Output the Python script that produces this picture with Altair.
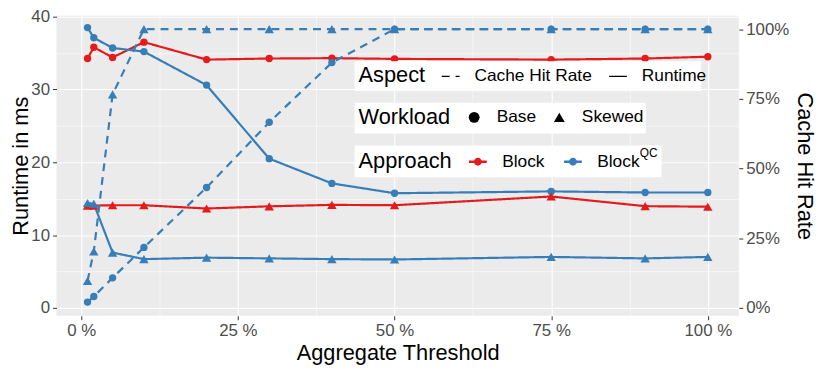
import altair as alt
import pandas as pd

# ---------------- data ----------------
thresholds = [1, 2, 5, 10, 20, 30, 40, 50, 75, 90, 100]

runtime_block_base = [34.25, 35.8, 34.4, 36.5, 34.1, 34.25, 34.3, 34.2, 34.1, 34.25, 34.5]
runtime_block_skewed = [14.05, 14.05, 14.1, 14.1, 13.65, 13.95, 14.15, 14.1, 15.3, 13.97, 13.9]
runtime_qc_base = [38.5, 37.1, 35.7, 35.2, 30.6, 20.5, 17.1, 15.75, 16.0, 15.85, 15.85]
runtime_qc_skewed = [14.4, 14.3, 7.6, 6.7, 6.9, 6.8, 6.7, 6.65, 7.0, 6.8, 7.0]

cache_qc_base = [0.021, 0.041, 0.108, 0.217, 0.432, 0.666, 0.88, 1.0, 1.0, 1.0, 1.0]
cache_qc_skewed = [0.097, 0.203, 0.766, 1.0, 1.0, 1.0, 1.0, 1.0, 1.0, 1.0, 1.0]

approaches = ["Block", "BlockQC"]
workloads = ["Base", "Skewed"]
aspects = ["Cache Hit Rate", "Runtime"]
approach_colors = ["#E41A1C", "#377EB8"]

x_ticks = [0, 12.5, 25, 37.5, 50, 62.5, 75, 87.5, 100]
y_ticks = [0, 5, 10, 15, 20, 25, 30, 35, 40]
y2_ticks = [0, 0.25, 0.5, 0.75, 1.0]

series = [
    ("Block", "Base", "Runtime", runtime_block_base),
    ("Block", "Skewed", "Runtime", runtime_block_skewed),
    ("BlockQC", "Base", "Runtime", runtime_qc_base),
    ("BlockQC", "Skewed", "Runtime", runtime_qc_skewed),
    ("BlockQC", "Base", "Cache Hit Rate", cache_qc_base),
    ("BlockQC", "Skewed", "Cache Hit Rate", cache_qc_skewed),
]
rows = []
for appr, wl, asp, vals in series:
    for t, v in zip(thresholds, vals):
        rows.append({"threshold": t, "value": v, "approach": appr,
                     "workload": wl, "aspect": asp,
                     "series": f"{appr}-{wl}-{asp}"})
df = pd.DataFrame(rows)

# legend background boxes (pixel positions inside the plot area)
legend_boxes = pd.DataFrame({
    "name": ["Aspect", "Workload", "Approach"],
    "x0": [301, 301, 301],
    "x1": [651, 595, 611],
    "y0": [46, 88, 131],
    "y1": [76, 119, 163],
})

# ---------------- styling ----------------
FONT = "Liberation Sans"
W, H = 689, 303
TITLE_SIZE = 22
LABEL_SIZE = 17

major_x = "datum.value % 25 === 0"
major_y = "datum.value % 10 === 0"

x_enc = alt.X(
    "threshold:Q",
    scale=alt.Scale(domain=[-3.95, 104.95], nice=False, zero=False),
    axis=alt.Axis(
        values=x_ticks, title="Aggregate Threshold",
        labelExpr=f"{major_x} ? datum.value + ' %' : ''",
        gridWidth={"condition": {"test": major_x, "value": 1.1}, "value": 0.55},
        tickOpacity={"condition": {"test": major_x, "value": 1}, "value": 0},
        titleY=37, titleBaseline="middle",
    ),
)

y_left = alt.Y(
    "value:Q",
    scale=alt.Scale(domain=[-1.08, 40.13], nice=False, zero=False),
    axis=alt.Axis(
        orient="left", values=y_ticks, title="Runtime in ms",
        labelExpr=f"{major_y} ? datum.label : ''",
        gridWidth={"condition": {"test": major_y, "value": 1.1}, "value": 0.55},
        tickOpacity={"condition": {"test": major_y, "value": 1}, "value": 0},
        titleX=-36, titleY=H / 2, titleAngle=270, titleBaseline="middle",
        titleAlign="center",
    ),
)

y_right = alt.Y(
    "value:Q",
    scale=alt.Scale(domain=[-0.0281, 1.0482], nice=False, zero=False),
    axis=alt.Axis(
        orient="right", values=y2_ticks, format=".0%", title="Cache Hit Rate",
        grid=False, titleX=66, titleY=H / 2, titleAngle=90,
        titleBaseline="middle", titleAlign="center",
    ),
)

legend_common = dict(
    orient="none", direction="horizontal", titleOrient="left",
    padding=4, titleFontSize=TITLE_SIZE,
    titleFont=FONT, titleFontWeight="normal", titleColor="black",
    labelFont=FONT, labelFontSize=17.5, labelColor="black",
    titlePadding=15, labelOffset=14, columnPadding=14,
    titleBaseline="middle",
)

color_enc = alt.Color(
    "approach:N",
    scale=alt.Scale(domain=approaches, range=approach_colors),
    legend=alt.Legend(
        title="Approach", legendX=301, legendY=133,
        symbolType="M-1,0L1,0M0.3,0A0.3,0.3 0 1,1 -0.3,0A0.3,0.3 0 1,1 0.3,0",
        symbolSize=324, symbolStrokeWidth=2.5,
        labelExpr="datum.label === 'BlockQC' ? 'Block' : datum.label",
        **legend_common,
    ),
)

shape_enc = alt.Shape(
    "workload:N",
    scale=alt.Scale(domain=workloads, range=["circle", "triangle-up"]),
    legend=alt.Legend(
        title="Workload", legendX=301, legendY=89.5,
        symbolSize=120, symbolFillColor="black", symbolStrokeColor="black",
        symbolStrokeWidth=0,
        **legend_common,
    ),
)

dash_enc = alt.StrokeDash(
    "aspect:N",
    scale=alt.Scale(domain=aspects, range=[[8, 6], [1, 0]]),
    legend=alt.Legend(
        title="Aspect", legendX=301, legendY=47,
        symbolType="stroke", symbolSize=324, symbolStrokeColor="black",
        symbolStrokeWidth=1.3, symbolDash=[5, 4],
        **legend_common,
    ),
)

base = alt.Chart(df)


def layer_for(aspect, y_enc):
    sub = base.transform_filter(f"datum.aspect === '{aspect}'")
    line = sub.mark_line(strokeWidth=2.2).encode(
        x=x_enc, y=y_enc, color=color_enc, strokeDash=dash_enc,
        detail="series:N")
    pts_base = sub.transform_filter("datum.workload === 'Base'").mark_point(
        filled=True, opacity=1, size=55).encode(
        x=x_enc, y=y_enc, color=color_enc, shape=shape_enc)
    pts_skew = sub.transform_filter("datum.workload === 'Skewed'").mark_point(
        filled=True, opacity=1, size=90).encode(
        x=x_enc, y=y_enc, color=color_enc, shape=shape_enc)
    return alt.layer(line, pts_base, pts_skew)


boxes = alt.Chart(legend_boxes).mark_rect(color="white").encode(
    x=alt.X("x0:Q", scale=None), x2="x1:Q",
    y=alt.Y("y0:Q", scale=None), y2="y1:Q",
)

sup_df = pd.DataFrame({"t": ["QC"]})
sup = alt.Chart(sup_df).mark_text(
    font=FONT, fontSize=12, color="black", align="left", baseline="middle"
).encode(x=alt.value(589), y=alt.value(139), text="t:N")

chart = alt.layer(
    layer_for("Runtime", y_left),
    layer_for("Cache Hit Rate", y_right),
    boxes,
    sup,
).resolve_scale(y="independent").properties(
    width=W, height=H,
    autosize=alt.AutoSizeParams(type="none"),
    padding={"left": 49, "top": 6, "right": 84, "bottom": 55},
).configure_view(
    fill="#EBEBEB", stroke=None
).configure_axis(
    gridColor="white", domain=False,
    tickColor="#333333", tickSize=4, tickWidth=1,
    labelColor="#4D4D4D", labelFont=FONT, labelFontSize=LABEL_SIZE,
    labelPadding=3,
    titleFont=FONT, titleFontSize=TITLE_SIZE, titleFontWeight="normal",
    titleColor="black",
)

chart.save("out.html", embed_options={"renderer": "svg", "actions": False})
